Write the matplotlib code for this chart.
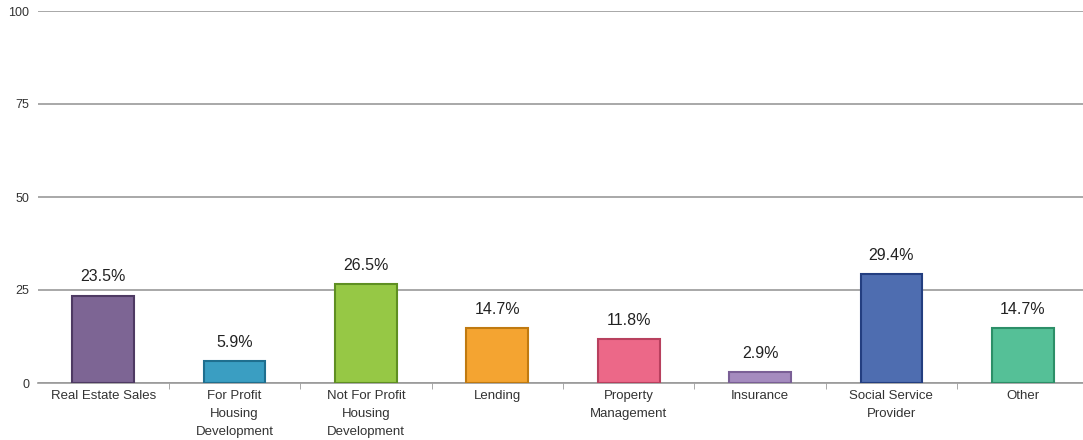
import matplotlib.pyplot as plt
import numpy as np

plt.rcParams['font.family'] = ['Liberation Sans', 'DejaVu Sans']

# Data
categories = ['Real Estate Sales', 'For Profit\nHousing\nDevelopment',
              'Not For Profit\nHousing\nDevelopment', 'Lending',
              'Property\nManagement', 'Insurance', 'Social Service\nProvider', 'Other']
values = [23.5, 5.9, 26.5, 14.7, 11.8, 2.9, 29.4, 14.7]
value_labels = ['23.5%', '5.9%', '26.5%', '14.7%', '11.8%', '2.9%', '29.4%', '14.7%']
colors = ['#7d6594', '#3a9ec2', '#96c845', '#f4a431', '#ec6888', '#a58bbf', '#4e6db0', '#55c097']
edges = ['#4e3a63', '#1f6f8f', '#5f8f22', '#c07a10', '#b8405e', '#7a5f96', '#233e80', '#2c8f68']
yticks = [0, 25, 50, 75, 100]

fig = plt.figure(figsize=(10.83, 4.40), dpi=100)
ax = fig.add_axes([37.5 / 1083, 57 / 440, 1051 / 1083, 372 / 440])

x = np.arange(len(categories))
ax.bar(x, values, width=0.47, color=colors, edgecolor=edges, linewidth=1.5, zorder=3)

for xi, v, lab in zip(x, values, value_labels):
    ax.annotate(lab, (xi, v), xytext=(0, 8), textcoords='offset points',
                ha='center', va='bottom', fontsize=11.5, color='#222222', zorder=4)

ax.set_xlim(-0.5, len(categories) - 0.5)
ax.set_ylim(0, 100)
ax.set_yticks(yticks)
ax.set_yticklabels([str(t) for t in yticks], fontsize=9, color='#333333')
ax.tick_params(axis='y', length=0, pad=6)
ax.yaxis.grid(True, color='#9a9a9a', linewidth=1.2, zorder=0)

ax.set_xticks(x)
ax.set_xticklabels(categories, fontsize=9.5, color='#333333', linespacing=1.65)
ax.tick_params(axis='x', length=0, pad=5)
# small separators between categories
ax.set_xticks(np.arange(0.5, len(categories) - 0.5), minor=True)
ax.tick_params(axis='x', which='minor', length=4, color='#9a9a9a', direction='out')

for s in ['top', 'right', 'left']:
    ax.spines[s].set_visible(False)
ax.spines['bottom'].set_color('#9a9a9a')
ax.spines['bottom'].set_linewidth(1.2)
ax.set_axisbelow(True)

fig.savefig('out.png', dpi=100)
